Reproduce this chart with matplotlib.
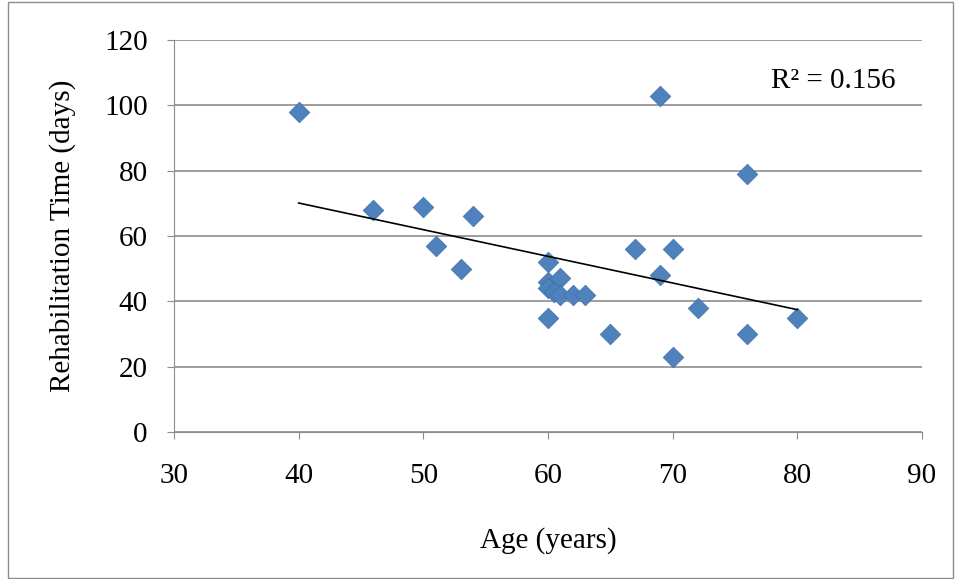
import matplotlib
matplotlib.use("Agg")
import matplotlib.pyplot as plt
import numpy as np

age = [40,46,50,51,53,54,60,60,60,60,60.5,61,61,62,63,65,67,69,69,70,70,72,76,76,80]
rehab = [98,68,69,57,50,66,52,46,44,35,43,47,42,42,42,30,56,103,48,56,23,38,79,30,35]

plt.rcParams['font.family'] = ['Liberation Serif', 'DejaVu Serif']
fig = plt.figure(figsize=(9.55,5.79), dpi=100)
ax = fig.add_axes([174/955, 1-432/579, (922-174)/955, (432-40)/579])
ax.set_xlim(30,90); ax.set_ylim(0,120)
ax.set_xticks(range(30,91,10)); ax.set_yticks(range(0,121,20))
ax.yaxis.grid(True, color='#8c8c8c', lw=1.2)
ax.set_axisbelow(True)
for s in ['top','right']: ax.spines[s].set_visible(False)
ax.spines['left'].set_color('#8c8c8c'); ax.spines['bottom'].set_color('#8c8c8c')
ax.tick_params(colors='#8c8c8c', labelcolor='black', labelsize=21, direction='out', length=5)
ax.tick_params(axis='x', pad=17)
ax.tick_params(axis='y', pad=14)
ax.scatter(age, rehab, marker='D', s=110, color='#4f81bd', edgecolor='#3f6fa8', lw=0.5, zorder=3)
x = np.array(age); y = np.array(rehab)
m, b = np.polyfit(x, y, 1)
xs = np.array([min(age), max(age)])
ax.plot(xs, m*xs+b, color='black', lw=1.2, zorder=4)
ax.text(0.965, 0.895, 'R² = 0.156', transform=ax.transAxes, fontsize=21, ha='right', va='center')
ax.set_xlabel('Age (years)', fontsize=21, labelpad=28)
ax.set_ylabel('Rehabilitation Time (days)', fontsize=21, labelpad=20)
fig.add_artist(plt.Rectangle((0.008,0.002),0.99,0.995, transform=fig.transFigure, fill=False, ec='#8c8c8c', lw=1))
fig.savefig('out.png')
